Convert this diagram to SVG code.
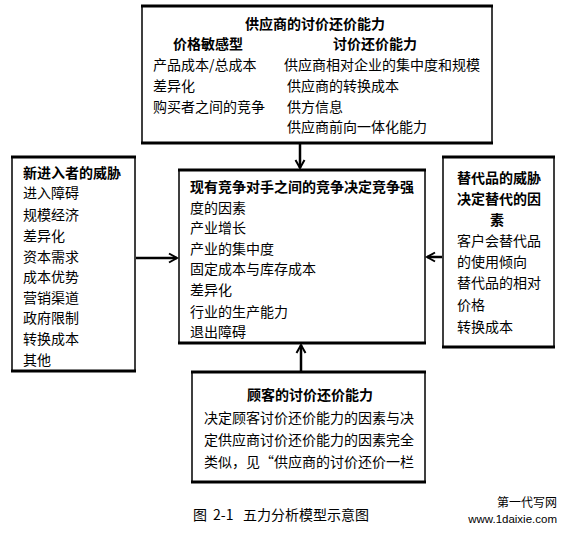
<svg xmlns="http://www.w3.org/2000/svg" width="567" height="538" viewBox="0 0 567 538">
<style>
text{font-family:"Noto Sans CJK SC","Liberation Sans",sans-serif;font-size:14px;fill:#000}
.b{font-weight:bold}
.c{text-anchor:middle}
.box{fill:#fff;stroke:#000;stroke-width:1.5}
.edge{stroke:#000;stroke-width:3}
.con{stroke:#000;stroke-width:2.5;fill:none}
</style>
<defs>
<marker id="ah" markerUnits="userSpaceOnUse" markerWidth="12" markerHeight="12" viewBox="-10 -6 12 12" refX="0" refY="0" orient="auto">
<path d="M-8,-4.5 L0,0 L-8,4.5" fill="none" stroke="#000" stroke-width="2"/>
</marker>
</defs>
<rect width="567" height="538" fill="#fff"/>
<g id="connectors">
<line class="con" x1="300" y1="144" x2="300" y2="168" marker-end="url(#ah)"/>
<line class="con" x1="136" y1="258" x2="177" y2="258" marker-end="url(#ah)"/>
<line class="con" x1="442" y1="257" x2="427" y2="257" marker-end="url(#ah)"/>
<line class="con" x1="301" y1="371" x2="301" y2="345" marker-end="url(#ah)"/>
</g>
<g id="supplier">
<rect class="box" x="142" y="6" width="350" height="137"/>
<line class="edge" x1="141" y1="6" x2="493" y2="6"/>
<line class="edge" x1="141" y1="143" x2="493" y2="143"/>
<text class="b c" x="315" y="29">供应商的讨价还价能力</text>
<text class="b c" x="208" y="49">价格敏感型</text>
<text class="b c" x="375" y="49">讨价还价能力</text>
<text x="153" y="70">产品成本/总成本</text>
<text x="153" y="91">差异化</text>
<text x="153" y="112">购买者之间的竞争</text>
<text x="284" y="70">供应商相对企业的集中度和规模</text>
<text x="287" y="91">供应商的转换成本</text>
<text x="287" y="112">供方信息</text>
<text x="287" y="132">供应商前向一体化能力</text>
</g>
<g id="entrants">
<rect class="box" x="12" y="157" width="123" height="214"/>
<line class="edge" x1="11" y1="157" x2="136" y2="157"/>
<line class="edge" x1="11" y1="371" x2="136" y2="371"/>
<text class="b" x="23" y="178">新进入者的威胁</text>
<text x="23" y="198">进入障碍</text>
<text x="23" y="220">规模经济</text>
<text x="23" y="241">差异化</text>
<text x="23" y="262">资本需求</text>
<text x="23" y="282">成本优势</text>
<text x="23" y="303">营销渠道</text>
<text x="23" y="323">政府限制</text>
<text x="23" y="344">转换成本</text>
<text x="23" y="365">其他</text>
</g>
<g id="rivalry">
<rect class="box" x="179" y="170" width="246" height="173"/>
<line class="edge" x1="178" y1="170" x2="426" y2="170"/>
<line class="edge" x1="178" y1="343" x2="426" y2="343"/>
<text class="b" x="190" y="192">现有竞争对手之间的竞争决定竞争强</text>
<text x="190" y="213">度的因素</text>
<text x="190" y="233">产业增长</text>
<text x="190" y="254">产业的集中度</text>
<text x="190" y="274">固定成本与库存成本</text>
<text x="190" y="295">差异化</text>
<text x="190" y="317">行业的生产能力</text>
<text x="190" y="337">退出障碍</text>
</g>
<g id="substitutes">
<rect class="box" x="443" y="157" width="111" height="190"/>
<line class="edge" x1="442" y1="157" x2="555" y2="157"/>
<line class="edge" x1="442" y1="347" x2="555" y2="347"/>
<text class="b c" x="499" y="183">替代品的威胁</text>
<text class="b c" x="499" y="204">决定替代的因</text>
<text class="b c" x="497" y="225">素</text>
<text x="457" y="246">客户会替代品</text>
<text x="457" y="267">的使用倾向</text>
<text x="457" y="288">替代品的相对</text>
<text x="457" y="310">价格</text>
<text x="457" y="332">转换成本</text>
</g>
<g id="buyers">
<rect class="box" x="192" y="372" width="233" height="110"/>
<line class="edge" x1="191" y1="372" x2="426" y2="372"/>
<line class="edge" x1="191" y1="482" x2="426" y2="482"/>
<text class="b c" x="310" y="400">顾客的讨价还价能力</text>
<text class="c" x="309" y="423">决定顾客讨价还价能力的因素与决</text>
<text class="c" x="309" y="445">定供应商讨价还价能力的因素完全</text>
<text class="c" x="309" y="467">类似，见“供应商的讨价还价一栏</text>
</g>
<text font-size="13"><tspan x="193" y="520">图</tspan><tspan x="213" y="520">2-1</tspan><tspan x="243" y="520">五力分析模型示意图</tspan></text>
<text x="557" y="507" style="font-size:12px;text-anchor:end">第一代写网</text>
<text x="557" y="523" style="font-size:11.5px;text-anchor:end;font-family:'Liberation Sans',sans-serif">www.1daixie.com</text>
</svg>
